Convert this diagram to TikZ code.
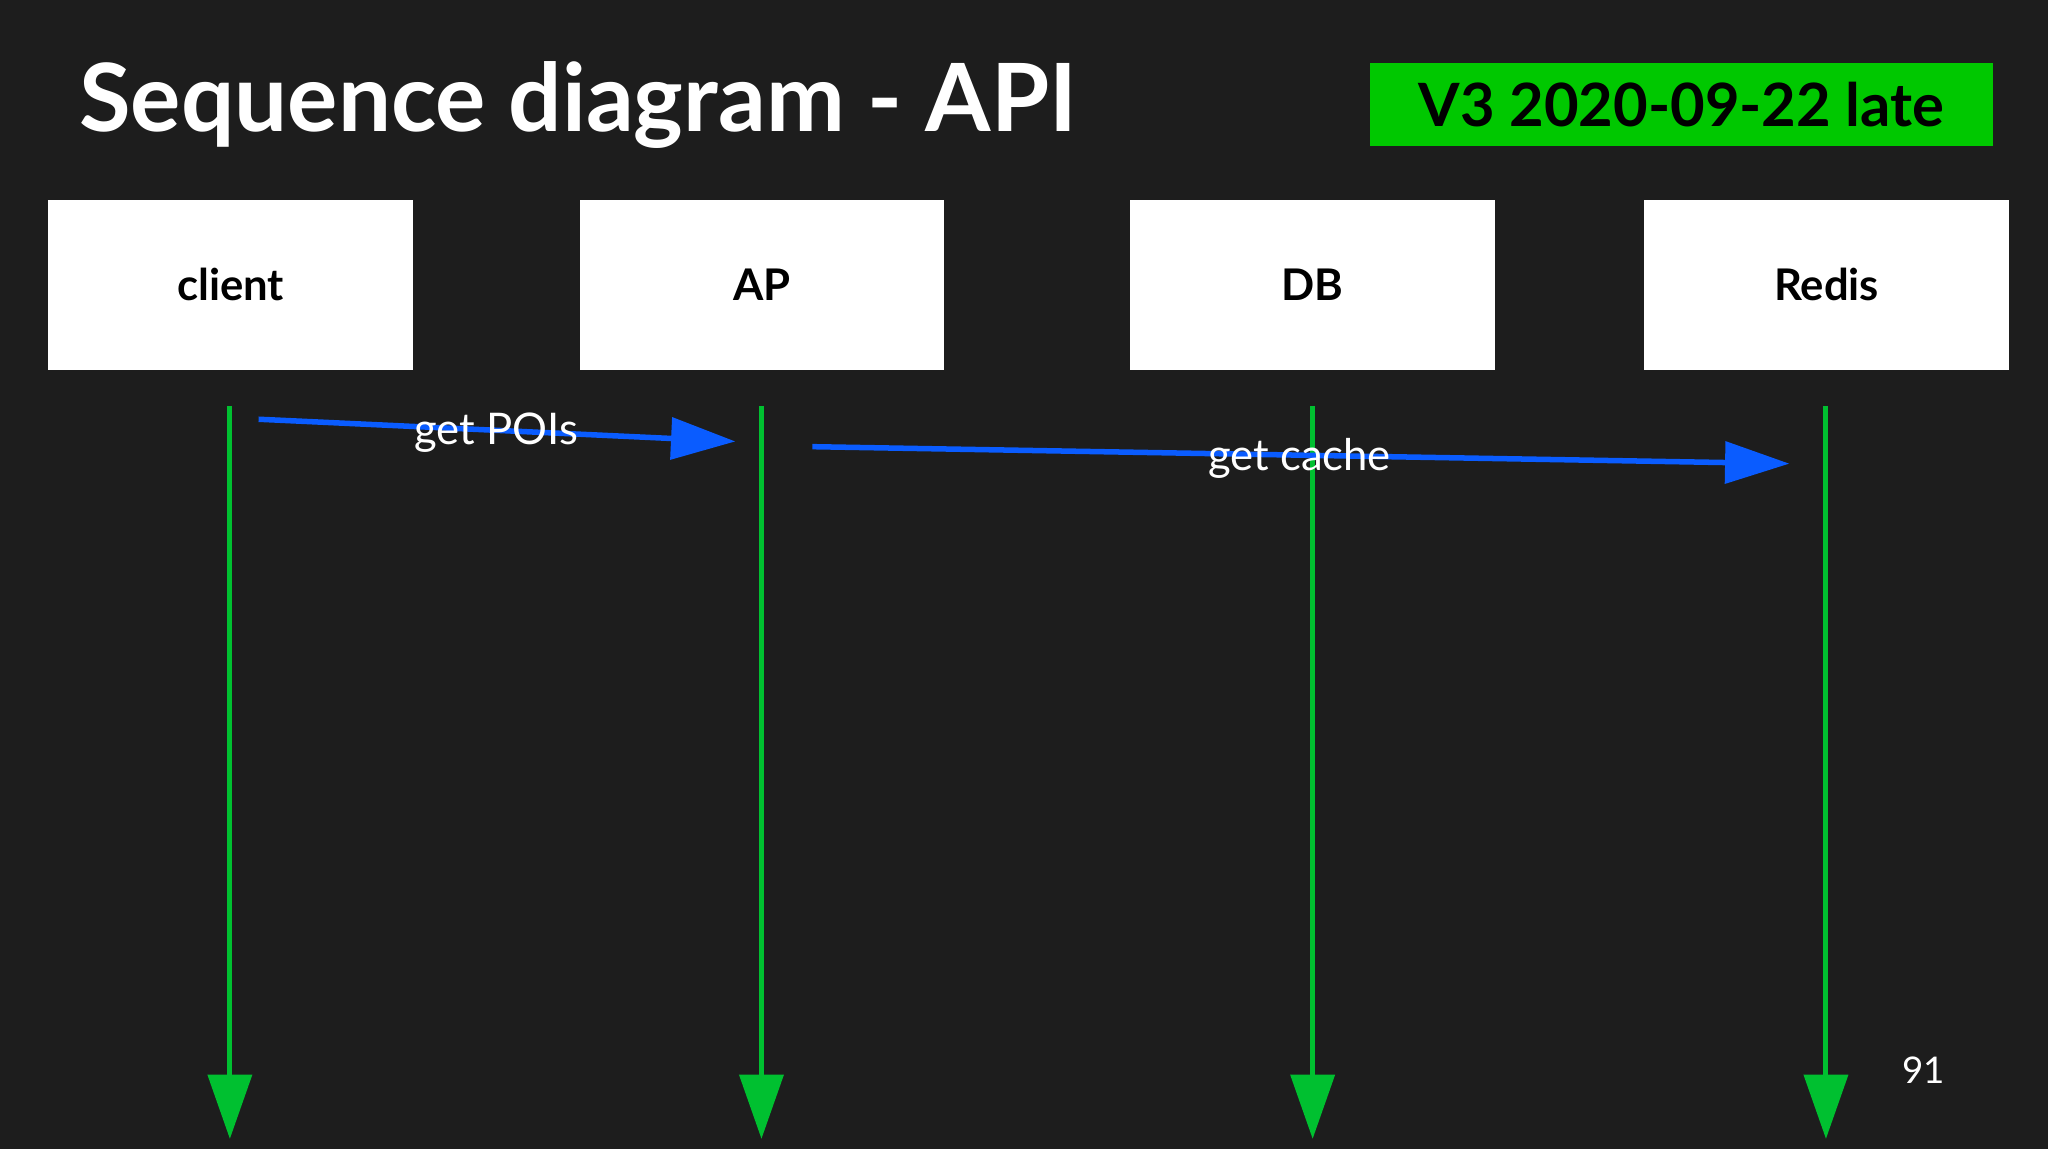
\documentclass[tikz,border=0pt]{standalone}
\usepackage{fontspec}
\setmainfont{Lato}
\usetikzlibrary{arrows.meta}
\definecolor{bg}{HTML}{1D1D1D}
\definecolor{tag}{HTML}{00C800}
\definecolor{life}{HTML}{00C030}
\definecolor{msg}{HTML}{0A5CFF}
\begin{document}
\begin{tikzpicture}[x=0.01cm,y=-0.01cm,
  actor/.style={fill=white,minimum width=2.79cm,minimum height=1.3cm,inner sep=0,font=\fontsize{9.5}{11}\selectfont\bfseries,text=black},
  lifeline/.style={draw=life,line width=1.1pt,-{Triangle[length=14pt,width=9.5pt]}},
  message/.style={draw=msg,line width=1.2pt,-{Triangle[length=14pt,width=9pt]}},
  lbl/.style={text=white,font=\fontsize{9.5}{11}\selectfont,inner sep=0}]
\fill[bg] (0,0) rectangle (1568,880);
\useasboundingbox (0,0) rectangle (1568,880);
\node[anchor=base west,text=white,font=\fontsize{20.5}{24}\selectfont\bfseries,inner sep=0] (title) at (60,101) {Sequence diagram - API};
\node[fill=tag,minimum width=4.77cm,minimum height=0.64cm,inner sep=0,font=\fontsize{13}{15}\selectfont\bfseries] (tagn) at (1287.5,80) {V3 2020-09-22 late};
\node[actor] (client) at (176.5,218) {client};
\node[actor] (ap) at (583.5,218) {AP};
\node[actor] (db) at (1005,218) {DB};
\node[actor] (redis) at (1398.5,218) {Redis};
\foreach \n/\x in {c/176,a/583,d/1005,r/1398}{
  \coordinate (\n s) at (\x,311);
  \coordinate (\n e) at (\x,872);
  \draw[lifeline] (\n s) -- (\n e);
}
\coordinate (m1s) at (198,321); \coordinate (m1e) at (563,338);
\coordinate (m2s) at (622,342); \coordinate (m2e) at (1370,355);
\draw[message] (m1s) -- (m1e);
\draw[message] (m2s) -- (m2e);
\node[lbl] (l1) at (380,331) {get POIs};
\node[lbl] (l2) at (995,351) {get cache};
\node[text=white,font=\fontsize{8}{10}\selectfont,inner sep=0] (page) at (1473,819) {91};
\end{tikzpicture}
\end{document}
